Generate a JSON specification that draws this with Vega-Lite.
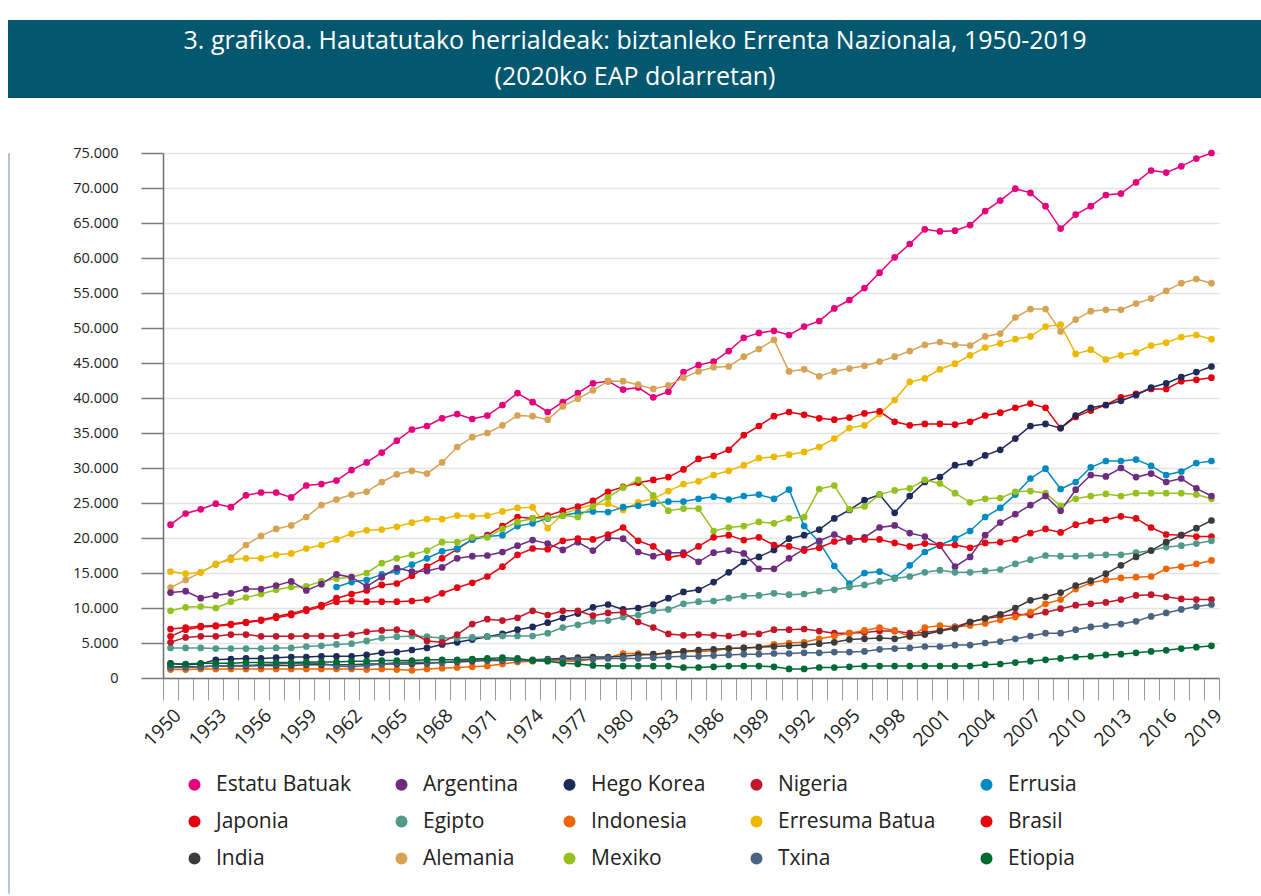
{
"$schema": "https://vega.github.io/schema/vega-lite/v6.json",
"background": "white",
"padding": {"left": 7, "top": 20, "right": 0, "bottom": 0},
"config": {"font": "Open Sans", "view": {"stroke": null}},
"spacing": 47,
"vconcat": [
{
"width": 1254, "height": 78,
"view": {"fill": "#03576F", "stroke": null},
"data": {"values": [{"line": "3. grafikoa. Hautatutako herrialdeak: biztanleko Errenta Nazionala, 1950-2019", "n": 1}, {"line": "(2020ko EAP dolarretan)", "n": 2}]},
"mark": {"type": "text", "color": "white", "fontSize": 25, "baseline": "middle", "align": "center", "font": "Open Sans"},
"encoding": {
"y": {"field": "n", "type": "ordinal", "axis": null, "scale": {"type": "point", "padding": 0.614}},
"text": {"field": "line"}
}
},
{
"spacing": 62,
"resolve": {"scale": {"color": "independent"}, "legend": {"color": "independent"}},
"hconcat": [
{"width": 1, "height": 740, "view": {"stroke": "#b4c6d2", "strokeWidth": 1}, "data": {"values": []}, "mark": "point"},
{
"width": 1056, "height": 525,
"data": {"values": [
{"country":"Estatu Batuak","year":1950,"value":21900},{"country":"Estatu Batuak","year":1951,"value":23500},{"country":"Estatu Batuak","year":1952,"value":24100},{"country":"Estatu Batuak","year":1953,"value":24900},{"country":"Estatu Batuak","year":1954,"value":24400},{"country":"Estatu Batuak","year":1955,"value":26100},{"country":"Estatu Batuak","year":1956,"value":26500},{"country":"Estatu Batuak","year":1957,"value":26500},{"country":"Estatu Batuak","year":1958,"value":25800},{"country":"Estatu Batuak","year":1959,"value":27500},
{"country":"Estatu Batuak","year":1960,"value":27700},{"country":"Estatu Batuak","year":1961,"value":28200},{"country":"Estatu Batuak","year":1962,"value":29700},{"country":"Estatu Batuak","year":1963,"value":30800},{"country":"Estatu Batuak","year":1964,"value":32200},{"country":"Estatu Batuak","year":1965,"value":33900},{"country":"Estatu Batuak","year":1966,"value":35500},{"country":"Estatu Batuak","year":1967,"value":36000},{"country":"Estatu Batuak","year":1968,"value":37100},{"country":"Estatu Batuak","year":1969,"value":37700},
{"country":"Estatu Batuak","year":1970,"value":37000},{"country":"Estatu Batuak","year":1971,"value":37500},{"country":"Estatu Batuak","year":1972,"value":39000},{"country":"Estatu Batuak","year":1973,"value":40700},{"country":"Estatu Batuak","year":1974,"value":39400},{"country":"Estatu Batuak","year":1975,"value":38000},{"country":"Estatu Batuak","year":1976,"value":39400},{"country":"Estatu Batuak","year":1977,"value":40700},{"country":"Estatu Batuak","year":1978,"value":42100},{"country":"Estatu Batuak","year":1979,"value":42400},
{"country":"Estatu Batuak","year":1980,"value":41200},{"country":"Estatu Batuak","year":1981,"value":41500},{"country":"Estatu Batuak","year":1982,"value":40100},{"country":"Estatu Batuak","year":1983,"value":40900},{"country":"Estatu Batuak","year":1984,"value":43700},{"country":"Estatu Batuak","year":1985,"value":44700},{"country":"Estatu Batuak","year":1986,"value":45200},{"country":"Estatu Batuak","year":1987,"value":46700},{"country":"Estatu Batuak","year":1988,"value":48600},{"country":"Estatu Batuak","year":1989,"value":49300},
{"country":"Estatu Batuak","year":1990,"value":49600},{"country":"Estatu Batuak","year":1991,"value":49000},{"country":"Estatu Batuak","year":1992,"value":50200},{"country":"Estatu Batuak","year":1993,"value":51000},{"country":"Estatu Batuak","year":1994,"value":52800},{"country":"Estatu Batuak","year":1995,"value":54000},{"country":"Estatu Batuak","year":1996,"value":55700},{"country":"Estatu Batuak","year":1997,"value":57900},{"country":"Estatu Batuak","year":1998,"value":60100},{"country":"Estatu Batuak","year":1999,"value":62000},
{"country":"Estatu Batuak","year":2000,"value":64100},{"country":"Estatu Batuak","year":2001,"value":63800},{"country":"Estatu Batuak","year":2002,"value":63900},{"country":"Estatu Batuak","year":2003,"value":64700},{"country":"Estatu Batuak","year":2004,"value":66700},{"country":"Estatu Batuak","year":2005,"value":68200},{"country":"Estatu Batuak","year":2006,"value":69900},{"country":"Estatu Batuak","year":2007,"value":69300},{"country":"Estatu Batuak","year":2008,"value":67400},{"country":"Estatu Batuak","year":2009,"value":64200},
{"country":"Estatu Batuak","year":2010,"value":66200},{"country":"Estatu Batuak","year":2011,"value":67400},{"country":"Estatu Batuak","year":2012,"value":69000},{"country":"Estatu Batuak","year":2013,"value":69200},{"country":"Estatu Batuak","year":2014,"value":70800},{"country":"Estatu Batuak","year":2015,"value":72500},{"country":"Estatu Batuak","year":2016,"value":72200},{"country":"Estatu Batuak","year":2017,"value":73100},{"country":"Estatu Batuak","year":2018,"value":74200},{"country":"Estatu Batuak","year":2019,"value":75000},
{"country":"Alemania","year":1950,"value":12900},{"country":"Alemania","year":1951,"value":14000},{"country":"Alemania","year":1952,"value":15100},{"country":"Alemania","year":1953,"value":16200},{"country":"Alemania","year":1954,"value":17200},{"country":"Alemania","year":1955,"value":19000},{"country":"Alemania","year":1956,"value":20300},{"country":"Alemania","year":1957,"value":21300},{"country":"Alemania","year":1958,"value":21800},{"country":"Alemania","year":1959,"value":23000},
{"country":"Alemania","year":1960,"value":24700},{"country":"Alemania","year":1961,"value":25500},{"country":"Alemania","year":1962,"value":26200},{"country":"Alemania","year":1963,"value":26600},{"country":"Alemania","year":1964,"value":28000},{"country":"Alemania","year":1965,"value":29100},{"country":"Alemania","year":1966,"value":29600},{"country":"Alemania","year":1967,"value":29200},{"country":"Alemania","year":1968,"value":30800},{"country":"Alemania","year":1969,"value":33000},
{"country":"Alemania","year":1970,"value":34400},{"country":"Alemania","year":1971,"value":35000},{"country":"Alemania","year":1972,"value":36100},{"country":"Alemania","year":1973,"value":37500},{"country":"Alemania","year":1974,"value":37400},{"country":"Alemania","year":1975,"value":36900},{"country":"Alemania","year":1976,"value":38800},{"country":"Alemania","year":1977,"value":39900},{"country":"Alemania","year":1978,"value":41100},{"country":"Alemania","year":1979,"value":42400},
{"country":"Alemania","year":1980,"value":42400},{"country":"Alemania","year":1981,"value":41900},{"country":"Alemania","year":1982,"value":41300},{"country":"Alemania","year":1983,"value":41800},{"country":"Alemania","year":1984,"value":42900},{"country":"Alemania","year":1985,"value":43800},{"country":"Alemania","year":1986,"value":44400},{"country":"Alemania","year":1987,"value":44500},{"country":"Alemania","year":1988,"value":45900},{"country":"Alemania","year":1989,"value":47000},
{"country":"Alemania","year":1990,"value":48300},{"country":"Alemania","year":1991,"value":43800},{"country":"Alemania","year":1992,"value":44100},{"country":"Alemania","year":1993,"value":43100},{"country":"Alemania","year":1994,"value":43800},{"country":"Alemania","year":1995,"value":44200},{"country":"Alemania","year":1996,"value":44600},{"country":"Alemania","year":1997,"value":45200},{"country":"Alemania","year":1998,"value":45900},{"country":"Alemania","year":1999,"value":46700},
{"country":"Alemania","year":2000,"value":47600},{"country":"Alemania","year":2001,"value":48000},{"country":"Alemania","year":2002,"value":47600},{"country":"Alemania","year":2003,"value":47500},{"country":"Alemania","year":2004,"value":48800},{"country":"Alemania","year":2005,"value":49200},{"country":"Alemania","year":2006,"value":51500},{"country":"Alemania","year":2007,"value":52700},{"country":"Alemania","year":2008,"value":52700},{"country":"Alemania","year":2009,"value":49500},
{"country":"Alemania","year":2010,"value":51200},{"country":"Alemania","year":2011,"value":52400},{"country":"Alemania","year":2012,"value":52600},{"country":"Alemania","year":2013,"value":52600},{"country":"Alemania","year":2014,"value":53500},{"country":"Alemania","year":2015,"value":54200},{"country":"Alemania","year":2016,"value":55300},{"country":"Alemania","year":2017,"value":56400},{"country":"Alemania","year":2018,"value":57000},{"country":"Alemania","year":2019,"value":56400},
{"country":"Erresuma Batua","year":1950,"value":15200},{"country":"Erresuma Batua","year":1951,"value":14900},{"country":"Erresuma Batua","year":1952,"value":15100},{"country":"Erresuma Batua","year":1953,"value":16300},{"country":"Erresuma Batua","year":1954,"value":16900},{"country":"Erresuma Batua","year":1955,"value":17100},{"country":"Erresuma Batua","year":1956,"value":17100},{"country":"Erresuma Batua","year":1957,"value":17600},{"country":"Erresuma Batua","year":1958,"value":17800},{"country":"Erresuma Batua","year":1959,"value":18500},
{"country":"Erresuma Batua","year":1960,"value":19000},{"country":"Erresuma Batua","year":1961,"value":19800},{"country":"Erresuma Batua","year":1962,"value":20600},{"country":"Erresuma Batua","year":1963,"value":21100},{"country":"Erresuma Batua","year":1964,"value":21200},{"country":"Erresuma Batua","year":1965,"value":21600},{"country":"Erresuma Batua","year":1966,"value":22200},{"country":"Erresuma Batua","year":1967,"value":22700},{"country":"Erresuma Batua","year":1968,"value":22700},{"country":"Erresuma Batua","year":1969,"value":23200},
{"country":"Erresuma Batua","year":1970,"value":23100},{"country":"Erresuma Batua","year":1971,"value":23200},{"country":"Erresuma Batua","year":1972,"value":23800},{"country":"Erresuma Batua","year":1973,"value":24300},{"country":"Erresuma Batua","year":1974,"value":24400},{"country":"Erresuma Batua","year":1975,"value":21400},{"country":"Erresuma Batua","year":1976,"value":23400},{"country":"Erresuma Batua","year":1977,"value":24200},{"country":"Erresuma Batua","year":1978,"value":24700},{"country":"Erresuma Batua","year":1979,"value":24900},
{"country":"Erresuma Batua","year":1980,"value":24000},{"country":"Erresuma Batua","year":1981,"value":25100},{"country":"Erresuma Batua","year":1982,"value":25600},{"country":"Erresuma Batua","year":1983,"value":26700},{"country":"Erresuma Batua","year":1984,"value":27700},{"country":"Erresuma Batua","year":1985,"value":28100},{"country":"Erresuma Batua","year":1986,"value":29000},{"country":"Erresuma Batua","year":1987,"value":29600},{"country":"Erresuma Batua","year":1988,"value":30400},{"country":"Erresuma Batua","year":1989,"value":31400},
{"country":"Erresuma Batua","year":1990,"value":31600},{"country":"Erresuma Batua","year":1991,"value":31900},{"country":"Erresuma Batua","year":1992,"value":32300},{"country":"Erresuma Batua","year":1993,"value":33000},{"country":"Erresuma Batua","year":1994,"value":34200},{"country":"Erresuma Batua","year":1995,"value":35700},{"country":"Erresuma Batua","year":1996,"value":36100},{"country":"Erresuma Batua","year":1997,"value":37700},{"country":"Erresuma Batua","year":1998,"value":39700},{"country":"Erresuma Batua","year":1999,"value":42300},
{"country":"Erresuma Batua","year":2000,"value":42800},{"country":"Erresuma Batua","year":2001,"value":44100},{"country":"Erresuma Batua","year":2002,"value":44900},{"country":"Erresuma Batua","year":2003,"value":46100},{"country":"Erresuma Batua","year":2004,"value":47200},{"country":"Erresuma Batua","year":2005,"value":47800},{"country":"Erresuma Batua","year":2006,"value":48400},{"country":"Erresuma Batua","year":2007,"value":48800},{"country":"Erresuma Batua","year":2008,"value":50200},{"country":"Erresuma Batua","year":2009,"value":50500},
{"country":"Erresuma Batua","year":2010,"value":46300},{"country":"Erresuma Batua","year":2011,"value":46900},{"country":"Erresuma Batua","year":2012,"value":45500},{"country":"Erresuma Batua","year":2013,"value":46100},{"country":"Erresuma Batua","year":2014,"value":46500},{"country":"Erresuma Batua","year":2015,"value":47500},{"country":"Erresuma Batua","year":2016,"value":47900},{"country":"Erresuma Batua","year":2017,"value":48700},{"country":"Erresuma Batua","year":2018,"value":49000},{"country":"Erresuma Batua","year":2019,"value":48400},
{"country":"Japonia","year":1950,"value":7000},{"country":"Japonia","year":1951,"value":7200},{"country":"Japonia","year":1952,"value":7400},{"country":"Japonia","year":1953,"value":7500},{"country":"Japonia","year":1954,"value":7700},{"country":"Japonia","year":1955,"value":8000},{"country":"Japonia","year":1956,"value":8300},{"country":"Japonia","year":1957,"value":8800},{"country":"Japonia","year":1958,"value":9200},{"country":"Japonia","year":1959,"value":9800},
{"country":"Japonia","year":1960,"value":10400},{"country":"Japonia","year":1961,"value":11400},{"country":"Japonia","year":1962,"value":12000},{"country":"Japonia","year":1963,"value":12500},{"country":"Japonia","year":1964,"value":13300},{"country":"Japonia","year":1965,"value":13500},{"country":"Japonia","year":1966,"value":14600},{"country":"Japonia","year":1967,"value":15900},{"country":"Japonia","year":1968,"value":17100},{"country":"Japonia","year":1969,"value":18400},
{"country":"Japonia","year":1970,"value":19800},{"country":"Japonia","year":1971,"value":20400},{"country":"Japonia","year":1972,"value":21700},{"country":"Japonia","year":1973,"value":23000},{"country":"Japonia","year":1974,"value":22800},{"country":"Japonia","year":1975,"value":23200},{"country":"Japonia","year":1976,"value":23900},{"country":"Japonia","year":1977,"value":24500},{"country":"Japonia","year":1978,"value":25300},{"country":"Japonia","year":1979,"value":26600},
{"country":"Japonia","year":1980,"value":27300},{"country":"Japonia","year":1981,"value":27900},{"country":"Japonia","year":1982,"value":28300},{"country":"Japonia","year":1983,"value":28700},{"country":"Japonia","year":1984,"value":29800},{"country":"Japonia","year":1985,"value":31300},{"country":"Japonia","year":1986,"value":31700},{"country":"Japonia","year":1987,"value":32600},{"country":"Japonia","year":1988,"value":34700},{"country":"Japonia","year":1989,"value":36000},
{"country":"Japonia","year":1990,"value":37400},{"country":"Japonia","year":1991,"value":38000},{"country":"Japonia","year":1992,"value":37600},{"country":"Japonia","year":1993,"value":37100},{"country":"Japonia","year":1994,"value":36900},{"country":"Japonia","year":1995,"value":37200},{"country":"Japonia","year":1996,"value":37800},{"country":"Japonia","year":1997,"value":38100},{"country":"Japonia","year":1998,"value":36600},{"country":"Japonia","year":1999,"value":36100},
{"country":"Japonia","year":2000,"value":36300},{"country":"Japonia","year":2001,"value":36300},{"country":"Japonia","year":2002,"value":36200},{"country":"Japonia","year":2003,"value":36600},{"country":"Japonia","year":2004,"value":37500},{"country":"Japonia","year":2005,"value":37900},{"country":"Japonia","year":2006,"value":38600},{"country":"Japonia","year":2007,"value":39200},{"country":"Japonia","year":2008,"value":38600},{"country":"Japonia","year":2009,"value":35700},
{"country":"Japonia","year":2010,"value":37300},{"country":"Japonia","year":2011,"value":38200},{"country":"Japonia","year":2012,"value":39000},{"country":"Japonia","year":2013,"value":40100},{"country":"Japonia","year":2014,"value":40600},{"country":"Japonia","year":2015,"value":41300},{"country":"Japonia","year":2016,"value":41300},{"country":"Japonia","year":2017,"value":42400},{"country":"Japonia","year":2018,"value":42600},{"country":"Japonia","year":2019,"value":42900},
{"country":"Hego Korea","year":1950,"value":2100},{"country":"Hego Korea","year":1951,"value":1900},{"country":"Hego Korea","year":1952,"value":2000},{"country":"Hego Korea","year":1953,"value":2600},{"country":"Hego Korea","year":1954,"value":2700},{"country":"Hego Korea","year":1955,"value":2800},{"country":"Hego Korea","year":1956,"value":2800},{"country":"Hego Korea","year":1957,"value":2900},{"country":"Hego Korea","year":1958,"value":3000},{"country":"Hego Korea","year":1959,"value":3000},
{"country":"Hego Korea","year":1960,"value":3100},{"country":"Hego Korea","year":1961,"value":3100},{"country":"Hego Korea","year":1962,"value":3100},{"country":"Hego Korea","year":1963,"value":3300},{"country":"Hego Korea","year":1964,"value":3600},{"country":"Hego Korea","year":1965,"value":3700},{"country":"Hego Korea","year":1966,"value":4000},{"country":"Hego Korea","year":1967,"value":4300},{"country":"Hego Korea","year":1968,"value":4800},{"country":"Hego Korea","year":1969,"value":5100},
{"country":"Hego Korea","year":1970,"value":5500},{"country":"Hego Korea","year":1971,"value":5900},{"country":"Hego Korea","year":1972,"value":6300},{"country":"Hego Korea","year":1973,"value":6900},{"country":"Hego Korea","year":1974,"value":7300},{"country":"Hego Korea","year":1975,"value":7900},{"country":"Hego Korea","year":1976,"value":8600},{"country":"Hego Korea","year":1977,"value":9200},{"country":"Hego Korea","year":1978,"value":10100},{"country":"Hego Korea","year":1979,"value":10500},
{"country":"Hego Korea","year":1980,"value":9800},{"country":"Hego Korea","year":1981,"value":10000},{"country":"Hego Korea","year":1982,"value":10500},{"country":"Hego Korea","year":1983,"value":11400},{"country":"Hego Korea","year":1984,"value":12300},{"country":"Hego Korea","year":1985,"value":12600},{"country":"Hego Korea","year":1986,"value":13700},{"country":"Hego Korea","year":1987,"value":15100},{"country":"Hego Korea","year":1988,"value":16600},{"country":"Hego Korea","year":1989,"value":17300},
{"country":"Hego Korea","year":1990,"value":18300},{"country":"Hego Korea","year":1991,"value":19900},{"country":"Hego Korea","year":1992,"value":20400},{"country":"Hego Korea","year":1993,"value":21200},{"country":"Hego Korea","year":1994,"value":22800},{"country":"Hego Korea","year":1995,"value":24000},{"country":"Hego Korea","year":1996,"value":25400},{"country":"Hego Korea","year":1997,"value":26200},{"country":"Hego Korea","year":1998,"value":23600},{"country":"Hego Korea","year":1999,"value":26000},
{"country":"Hego Korea","year":2000,"value":28000},{"country":"Hego Korea","year":2001,"value":28700},{"country":"Hego Korea","year":2002,"value":30400},{"country":"Hego Korea","year":2003,"value":30700},{"country":"Hego Korea","year":2004,"value":31800},{"country":"Hego Korea","year":2005,"value":32600},{"country":"Hego Korea","year":2006,"value":34200},{"country":"Hego Korea","year":2007,"value":36000},{"country":"Hego Korea","year":2008,"value":36300},{"country":"Hego Korea","year":2009,"value":35700},
{"country":"Hego Korea","year":2010,"value":37500},{"country":"Hego Korea","year":2011,"value":38600},{"country":"Hego Korea","year":2012,"value":39000},{"country":"Hego Korea","year":2013,"value":39600},{"country":"Hego Korea","year":2014,"value":40400},{"country":"Hego Korea","year":2015,"value":41500},{"country":"Hego Korea","year":2016,"value":42100},{"country":"Hego Korea","year":2017,"value":43000},{"country":"Hego Korea","year":2018,"value":43700},{"country":"Hego Korea","year":2019,"value":44500},
{"country":"Errusia","year":1961,"value":13000},{"country":"Errusia","year":1962,"value":13700},{"country":"Errusia","year":1963,"value":14000},{"country":"Errusia","year":1964,"value":14800},{"country":"Errusia","year":1965,"value":15200},{"country":"Errusia","year":1966,"value":16200},{"country":"Errusia","year":1967,"value":17100},{"country":"Errusia","year":1968,"value":18100},{"country":"Errusia","year":1969,"value":18500},
{"country":"Errusia","year":1970,"value":19800},{"country":"Errusia","year":1971,"value":20200},{"country":"Errusia","year":1972,"value":20400},{"country":"Errusia","year":1973,"value":21700},{"country":"Errusia","year":1974,"value":22100},{"country":"Errusia","year":1975,"value":22800},{"country":"Errusia","year":1976,"value":23200},{"country":"Errusia","year":1977,"value":23600},{"country":"Errusia","year":1978,"value":23800},{"country":"Errusia","year":1979,"value":23700},
{"country":"Errusia","year":1980,"value":24400},{"country":"Errusia","year":1981,"value":24600},{"country":"Errusia","year":1982,"value":24900},{"country":"Errusia","year":1983,"value":25200},{"country":"Errusia","year":1984,"value":25200},{"country":"Errusia","year":1985,"value":25600},{"country":"Errusia","year":1986,"value":25900},{"country":"Errusia","year":1987,"value":25500},{"country":"Errusia","year":1988,"value":26000},{"country":"Errusia","year":1989,"value":26200},
{"country":"Errusia","year":1990,"value":25600},{"country":"Errusia","year":1991,"value":26900},{"country":"Errusia","year":1992,"value":21700},{"country":"Errusia","year":1993,"value":19400},{"country":"Errusia","year":1994,"value":16000},{"country":"Errusia","year":1995,"value":13500},{"country":"Errusia","year":1996,"value":15000},{"country":"Errusia","year":1997,"value":15200},{"country":"Errusia","year":1998,"value":14300},{"country":"Errusia","year":1999,"value":16100},
{"country":"Errusia","year":2000,"value":18000},{"country":"Errusia","year":2001,"value":19000},{"country":"Errusia","year":2002,"value":19900},{"country":"Errusia","year":2003,"value":21000},{"country":"Errusia","year":2004,"value":23000},{"country":"Errusia","year":2005,"value":24300},{"country":"Errusia","year":2006,"value":26200},{"country":"Errusia","year":2007,"value":28500},{"country":"Errusia","year":2008,"value":29900},{"country":"Errusia","year":2009,"value":27000},
{"country":"Errusia","year":2010,"value":28000},{"country":"Errusia","year":2011,"value":30100},{"country":"Errusia","year":2012,"value":31000},{"country":"Errusia","year":2013,"value":31000},{"country":"Errusia","year":2014,"value":31200},{"country":"Errusia","year":2015,"value":30300},{"country":"Errusia","year":2016,"value":29000},{"country":"Errusia","year":2017,"value":29500},{"country":"Errusia","year":2018,"value":30700},{"country":"Errusia","year":2019,"value":31000},
{"country":"Mexiko","year":1950,"value":9600},{"country":"Mexiko","year":1951,"value":10100},{"country":"Mexiko","year":1952,"value":10200},{"country":"Mexiko","year":1953,"value":10000},{"country":"Mexiko","year":1954,"value":10900},{"country":"Mexiko","year":1955,"value":11500},{"country":"Mexiko","year":1956,"value":12000},{"country":"Mexiko","year":1957,"value":12600},{"country":"Mexiko","year":1958,"value":13000},{"country":"Mexiko","year":1959,"value":13100},
{"country":"Mexiko","year":1960,"value":13800},{"country":"Mexiko","year":1961,"value":14200},{"country":"Mexiko","year":1962,"value":14400},{"country":"Mexiko","year":1963,"value":15000},{"country":"Mexiko","year":1964,"value":16400},{"country":"Mexiko","year":1965,"value":17100},{"country":"Mexiko","year":1966,"value":17600},{"country":"Mexiko","year":1967,"value":18200},{"country":"Mexiko","year":1968,"value":19400},{"country":"Mexiko","year":1969,"value":19400},
{"country":"Mexiko","year":1970,"value":20100},{"country":"Mexiko","year":1971,"value":20100},{"country":"Mexiko","year":1972,"value":21300},{"country":"Mexiko","year":1973,"value":22300},{"country":"Mexiko","year":1974,"value":22800},{"country":"Mexiko","year":1975,"value":22900},{"country":"Mexiko","year":1976,"value":23200},{"country":"Mexiko","year":1977,"value":23000},{"country":"Mexiko","year":1978,"value":24500},{"country":"Mexiko","year":1979,"value":25800},
{"country":"Mexiko","year":1980,"value":27200},{"country":"Mexiko","year":1981,"value":28300},{"country":"Mexiko","year":1982,"value":26100},{"country":"Mexiko","year":1983,"value":23900},{"country":"Mexiko","year":1984,"value":24200},{"country":"Mexiko","year":1985,"value":24200},{"country":"Mexiko","year":1986,"value":21000},{"country":"Mexiko","year":1987,"value":21500},{"country":"Mexiko","year":1988,"value":21700},{"country":"Mexiko","year":1989,"value":22300},
{"country":"Mexiko","year":1990,"value":22100},{"country":"Mexiko","year":1991,"value":22800},{"country":"Mexiko","year":1992,"value":23000},{"country":"Mexiko","year":1993,"value":27000},{"country":"Mexiko","year":1994,"value":27500},{"country":"Mexiko","year":1995,"value":24100},{"country":"Mexiko","year":1996,"value":24500},{"country":"Mexiko","year":1997,"value":26200},{"country":"Mexiko","year":1998,"value":26800},{"country":"Mexiko","year":1999,"value":27100},
{"country":"Mexiko","year":2000,"value":28300},{"country":"Mexiko","year":2001,"value":27800},{"country":"Mexiko","year":2002,"value":26400},{"country":"Mexiko","year":2003,"value":25100},{"country":"Mexiko","year":2004,"value":25600},{"country":"Mexiko","year":2005,"value":25700},{"country":"Mexiko","year":2006,"value":26600},{"country":"Mexiko","year":2007,"value":26700},{"country":"Mexiko","year":2008,"value":26400},{"country":"Mexiko","year":2009,"value":24600},
{"country":"Mexiko","year":2010,"value":25600},{"country":"Mexiko","year":2011,"value":26000},{"country":"Mexiko","year":2012,"value":26300},{"country":"Mexiko","year":2013,"value":26000},{"country":"Mexiko","year":2014,"value":26400},{"country":"Mexiko","year":2015,"value":26400},{"country":"Mexiko","year":2016,"value":26400},{"country":"Mexiko","year":2017,"value":26400},{"country":"Mexiko","year":2018,"value":26200},{"country":"Mexiko","year":2019,"value":25600},
{"country":"Argentina","year":1950,"value":12200},{"country":"Argentina","year":1951,"value":12400},{"country":"Argentina","year":1952,"value":11400},{"country":"Argentina","year":1953,"value":11800},{"country":"Argentina","year":1954,"value":12100},{"country":"Argentina","year":1955,"value":12700},{"country":"Argentina","year":1956,"value":12700},{"country":"Argentina","year":1957,"value":13200},{"country":"Argentina","year":1958,"value":13800},{"country":"Argentina","year":1959,"value":12500},
{"country":"Argentina","year":1960,"value":13400},{"country":"Argentina","year":1961,"value":14800},{"country":"Argentina","year":1962,"value":14400},{"country":"Argentina","year":1963,"value":13100},{"country":"Argentina","year":1964,"value":14400},{"country":"Argentina","year":1965,"value":15700},{"country":"Argentina","year":1966,"value":15200},{"country":"Argentina","year":1967,"value":15300},{"country":"Argentina","year":1968,"value":15800},{"country":"Argentina","year":1969,"value":17100},
{"country":"Argentina","year":1970,"value":17400},{"country":"Argentina","year":1971,"value":17500},{"country":"Argentina","year":1972,"value":18000},{"country":"Argentina","year":1973,"value":18900},{"country":"Argentina","year":1974,"value":19700},{"country":"Argentina","year":1975,"value":19200},{"country":"Argentina","year":1976,"value":18300},{"country":"Argentina","year":1977,"value":19400},{"country":"Argentina","year":1978,"value":18200},{"country":"Argentina","year":1979,"value":20000},
{"country":"Argentina","year":1980,"value":19900},{"country":"Argentina","year":1981,"value":18000},{"country":"Argentina","year":1982,"value":17400},{"country":"Argentina","year":1983,"value":17900},{"country":"Argentina","year":1984,"value":17900},{"country":"Argentina","year":1985,"value":16600},{"country":"Argentina","year":1986,"value":17900},{"country":"Argentina","year":1987,"value":18200},{"country":"Argentina","year":1988,"value":17800},{"country":"Argentina","year":1989,"value":15600},
{"country":"Argentina","year":1990,"value":15600},{"country":"Argentina","year":1991,"value":17100},{"country":"Argentina","year":1992,"value":18400},{"country":"Argentina","year":1993,"value":19600},{"country":"Argentina","year":1994,"value":20500},{"country":"Argentina","year":1995,"value":19500},{"country":"Argentina","year":1996,"value":20100},{"country":"Argentina","year":1997,"value":21500},{"country":"Argentina","year":1998,"value":21800},{"country":"Argentina","year":1999,"value":20700},
{"country":"Argentina","year":2000,"value":20200},{"country":"Argentina","year":2001,"value":18900},{"country":"Argentina","year":2002,"value":15900},{"country":"Argentina","year":2003,"value":17300},{"country":"Argentina","year":2004,"value":20400},{"country":"Argentina","year":2005,"value":22200},{"country":"Argentina","year":2006,"value":23400},{"country":"Argentina","year":2007,"value":24700},{"country":"Argentina","year":2008,"value":26000},{"country":"Argentina","year":2009,"value":23900},
{"country":"Argentina","year":2010,"value":26900},{"country":"Argentina","year":2011,"value":29000},{"country":"Argentina","year":2012,"value":28800},{"country":"Argentina","year":2013,"value":30000},{"country":"Argentina","year":2014,"value":28700},{"country":"Argentina","year":2015,"value":29200},{"country":"Argentina","year":2016,"value":28000},{"country":"Argentina","year":2017,"value":28500},{"country":"Argentina","year":2018,"value":27100},{"country":"Argentina","year":2019,"value":26000},
{"country":"Brasil","year":1950,"value":5950},{"country":"Brasil","year":1951,"value":6900},{"country":"Brasil","year":1952,"value":7300},{"country":"Brasil","year":1953,"value":7400},{"country":"Brasil","year":1954,"value":7600},{"country":"Brasil","year":1955,"value":7900},{"country":"Brasil","year":1956,"value":8200},{"country":"Brasil","year":1957,"value":8600},{"country":"Brasil","year":1958,"value":9000},{"country":"Brasil","year":1959,"value":9600},
{"country":"Brasil","year":1960,"value":10200},{"country":"Brasil","year":1961,"value":10900},{"country":"Brasil","year":1962,"value":11000},{"country":"Brasil","year":1963,"value":10900},{"country":"Brasil","year":1964,"value":10900},{"country":"Brasil","year":1965,"value":10900},{"country":"Brasil","year":1966,"value":11000},{"country":"Brasil","year":1967,"value":11200},{"country":"Brasil","year":1968,"value":12100},{"country":"Brasil","year":1969,"value":12900},
{"country":"Brasil","year":1970,"value":13600},{"country":"Brasil","year":1971,"value":14500},{"country":"Brasil","year":1972,"value":15900},{"country":"Brasil","year":1973,"value":17600},{"country":"Brasil","year":1974,"value":18500},{"country":"Brasil","year":1975,"value":18400},{"country":"Brasil","year":1976,"value":19600},{"country":"Brasil","year":1977,"value":19900},{"country":"Brasil","year":1978,"value":19800},{"country":"Brasil","year":1979,"value":20500},
{"country":"Brasil","year":1980,"value":21500},{"country":"Brasil","year":1981,"value":19600},{"country":"Brasil","year":1982,"value":18800},{"country":"Brasil","year":1983,"value":17200},{"country":"Brasil","year":1984,"value":17600},{"country":"Brasil","year":1985,"value":18800},{"country":"Brasil","year":1986,"value":20100},{"country":"Brasil","year":1987,"value":20400},{"country":"Brasil","year":1988,"value":19700},{"country":"Brasil","year":1989,"value":20100},
{"country":"Brasil","year":1990,"value":19000},{"country":"Brasil","year":1991,"value":18800},{"country":"Brasil","year":1992,"value":18200},{"country":"Brasil","year":1993,"value":18600},{"country":"Brasil","year":1994,"value":19500},{"country":"Brasil","year":1995,"value":20000},{"country":"Brasil","year":1996,"value":19800},{"country":"Brasil","year":1997,"value":19800},{"country":"Brasil","year":1998,"value":19300},{"country":"Brasil","year":1999,"value":18800},
{"country":"Brasil","year":2000,"value":19200},{"country":"Brasil","year":2001,"value":19000},{"country":"Brasil","year":2002,"value":19000},{"country":"Brasil","year":2003,"value":18600},{"country":"Brasil","year":2004,"value":19300},{"country":"Brasil","year":2005,"value":19400},{"country":"Brasil","year":2006,"value":19800},{"country":"Brasil","year":2007,"value":20700},{"country":"Brasil","year":2008,"value":21300},{"country":"Brasil","year":2009,"value":20800},
{"country":"Brasil","year":2010,"value":21900},{"country":"Brasil","year":2011,"value":22400},{"country":"Brasil","year":2012,"value":22600},{"country":"Brasil","year":2013,"value":23100},{"country":"Brasil","year":2014,"value":22800},{"country":"Brasil","year":2015,"value":21500},{"country":"Brasil","year":2016,"value":20500},{"country":"Brasil","year":2017,"value":20400},{"country":"Brasil","year":2018,"value":20200},{"country":"Brasil","year":2019,"value":20200},
{"country":"Egipto","year":1950,"value":4300},{"country":"Egipto","year":1951,"value":4300},{"country":"Egipto","year":1952,"value":4300},{"country":"Egipto","year":1953,"value":4200},{"country":"Egipto","year":1954,"value":4200},{"country":"Egipto","year":1955,"value":4200},{"country":"Egipto","year":1956,"value":4200},{"country":"Egipto","year":1957,"value":4300},{"country":"Egipto","year":1958,"value":4300},{"country":"Egipto","year":1959,"value":4500},
{"country":"Egipto","year":1960,"value":4600},{"country":"Egipto","year":1961,"value":4800},{"country":"Egipto","year":1962,"value":4900},{"country":"Egipto","year":1963,"value":5300},{"country":"Egipto","year":1964,"value":5700},{"country":"Egipto","year":1965,"value":5900},{"country":"Egipto","year":1966,"value":6000},{"country":"Egipto","year":1967,"value":5900},{"country":"Egipto","year":1968,"value":5700},{"country":"Egipto","year":1969,"value":5700},
{"country":"Egipto","year":1970,"value":5800},{"country":"Egipto","year":1971,"value":5900},{"country":"Egipto","year":1972,"value":6000},{"country":"Egipto","year":1973,"value":6000},{"country":"Egipto","year":1974,"value":6000},{"country":"Egipto","year":1975,"value":6400},{"country":"Egipto","year":1976,"value":7200},{"country":"Egipto","year":1977,"value":7600},{"country":"Egipto","year":1978,"value":8100},{"country":"Egipto","year":1979,"value":8200},
{"country":"Egipto","year":1980,"value":8700},{"country":"Egipto","year":1981,"value":9000},{"country":"Egipto","year":1982,"value":9600},{"country":"Egipto","year":1983,"value":9800},{"country":"Egipto","year":1984,"value":10600},{"country":"Egipto","year":1985,"value":10900},{"country":"Egipto","year":1986,"value":11000},{"country":"Egipto","year":1987,"value":11400},{"country":"Egipto","year":1988,"value":11700},{"country":"Egipto","year":1989,"value":11800},
{"country":"Egipto","year":1990,"value":12100},{"country":"Egipto","year":1991,"value":11900},{"country":"Egipto","year":1992,"value":12000},{"country":"Egipto","year":1993,"value":12400},{"country":"Egipto","year":1994,"value":12600},{"country":"Egipto","year":1995,"value":13000},{"country":"Egipto","year":1996,"value":13300},{"country":"Egipto","year":1997,"value":13800},{"country":"Egipto","year":1998,"value":14200},{"country":"Egipto","year":1999,"value":14500},
{"country":"Egipto","year":2000,"value":15100},{"country":"Egipto","year":2001,"value":15400},{"country":"Egipto","year":2002,"value":15100},{"country":"Egipto","year":2003,"value":15100},{"country":"Egipto","year":2004,"value":15300},{"country":"Egipto","year":2005,"value":15500},{"country":"Egipto","year":2006,"value":16300},{"country":"Egipto","year":2007,"value":16900},{"country":"Egipto","year":2008,"value":17500},{"country":"Egipto","year":2009,"value":17400},
{"country":"Egipto","year":2010,"value":17400},{"country":"Egipto","year":2011,"value":17500},{"country":"Egipto","year":2012,"value":17600},{"country":"Egipto","year":2013,"value":17600},{"country":"Egipto","year":2014,"value":17900},{"country":"Egipto","year":2015,"value":18200},{"country":"Egipto","year":2016,"value":18700},{"country":"Egipto","year":2017,"value":18900},{"country":"Egipto","year":2018,"value":19200},{"country":"Egipto","year":2019,"value":19600},
{"country":"Nigeria","year":1950,"value":5100},{"country":"Nigeria","year":1951,"value":5800},{"country":"Nigeria","year":1952,"value":5950},{"country":"Nigeria","year":1953,"value":5950},{"country":"Nigeria","year":1954,"value":6200},{"country":"Nigeria","year":1955,"value":6200},{"country":"Nigeria","year":1956,"value":5950},{"country":"Nigeria","year":1957,"value":5950},{"country":"Nigeria","year":1958,"value":5950},{"country":"Nigeria","year":1959,"value":6000},
{"country":"Nigeria","year":1960,"value":6000},{"country":"Nigeria","year":1961,"value":6000},{"country":"Nigeria","year":1962,"value":6200},{"country":"Nigeria","year":1963,"value":6600},{"country":"Nigeria","year":1964,"value":6800},{"country":"Nigeria","year":1965,"value":6900},{"country":"Nigeria","year":1966,"value":6500},{"country":"Nigeria","year":1967,"value":5300},{"country":"Nigeria","year":1968,"value":5100},{"country":"Nigeria","year":1969,"value":6200},
{"country":"Nigeria","year":1970,"value":7700},{"country":"Nigeria","year":1971,"value":8400},{"country":"Nigeria","year":1972,"value":8200},{"country":"Nigeria","year":1973,"value":8600},{"country":"Nigeria","year":1974,"value":9600},{"country":"Nigeria","year":1975,"value":9000},{"country":"Nigeria","year":1976,"value":9600},{"country":"Nigeria","year":1977,"value":9600},{"country":"Nigeria","year":1978,"value":8900},{"country":"Nigeria","year":1979,"value":9300},
{"country":"Nigeria","year":1980,"value":9400},{"country":"Nigeria","year":1981,"value":8000},{"country":"Nigeria","year":1982,"value":7200},{"country":"Nigeria","year":1983,"value":6300},{"country":"Nigeria","year":1984,"value":6100},{"country":"Nigeria","year":1985,"value":6200},{"country":"Nigeria","year":1986,"value":6100},{"country":"Nigeria","year":1987,"value":6000},{"country":"Nigeria","year":1988,"value":6300},{"country":"Nigeria","year":1989,"value":6300},
{"country":"Nigeria","year":1990,"value":6900},{"country":"Nigeria","year":1991,"value":6900},{"country":"Nigeria","year":1992,"value":7000},{"country":"Nigeria","year":1993,"value":6700},{"country":"Nigeria","year":1994,"value":6400},{"country":"Nigeria","year":1995,"value":6400},{"country":"Nigeria","year":1996,"value":6500},{"country":"Nigeria","year":1997,"value":6700},{"country":"Nigeria","year":1998,"value":6700},{"country":"Nigeria","year":1999,"value":6400},
{"country":"Nigeria","year":2000,"value":6500},{"country":"Nigeria","year":2001,"value":6800},{"country":"Nigeria","year":2002,"value":7300},{"country":"Nigeria","year":2003,"value":8000},{"country":"Nigeria","year":2004,"value":8500},{"country":"Nigeria","year":2005,"value":8800},{"country":"Nigeria","year":2006,"value":9100},{"country":"Nigeria","year":2007,"value":9000},{"country":"Nigeria","year":2008,"value":9400},{"country":"Nigeria","year":2009,"value":9900},
{"country":"Nigeria","year":2010,"value":10400},{"country":"Nigeria","year":2011,"value":10600},{"country":"Nigeria","year":2012,"value":10800},{"country":"Nigeria","year":2013,"value":11200},{"country":"Nigeria","year":2014,"value":11800},{"country":"Nigeria","year":2015,"value":11900},{"country":"Nigeria","year":2016,"value":11600},{"country":"Nigeria","year":2017,"value":11300},{"country":"Nigeria","year":2018,"value":11200},{"country":"Nigeria","year":2019,"value":11200},
{"country":"Indonesia","year":1950,"value":1200},{"country":"Indonesia","year":1951,"value":1200},{"country":"Indonesia","year":1952,"value":1300},{"country":"Indonesia","year":1953,"value":1300},{"country":"Indonesia","year":1954,"value":1300},{"country":"Indonesia","year":1955,"value":1300},{"country":"Indonesia","year":1956,"value":1300},{"country":"Indonesia","year":1957,"value":1300},{"country":"Indonesia","year":1958,"value":1300},{"country":"Indonesia","year":1959,"value":1300},
{"country":"Indonesia","year":1960,"value":1300},{"country":"Indonesia","year":1961,"value":1300},{"country":"Indonesia","year":1962,"value":1300},{"country":"Indonesia","year":1963,"value":1200},{"country":"Indonesia","year":1964,"value":1300},{"country":"Indonesia","year":1965,"value":1200},{"country":"Indonesia","year":1966,"value":1100},{"country":"Indonesia","year":1967,"value":1300},{"country":"Indonesia","year":1968,"value":1400},{"country":"Indonesia","year":1969,"value":1500},
{"country":"Indonesia","year":1970,"value":1600},{"country":"Indonesia","year":1971,"value":1700},{"country":"Indonesia","year":1972,"value":2000},{"country":"Indonesia","year":1973,"value":2300},{"country":"Indonesia","year":1974,"value":2400},{"country":"Indonesia","year":1975,"value":2500},{"country":"Indonesia","year":1976,"value":2400},{"country":"Indonesia","year":1977,"value":2400},{"country":"Indonesia","year":1978,"value":2700},{"country":"Indonesia","year":1979,"value":2900},
{"country":"Indonesia","year":1980,"value":3500},{"country":"Indonesia","year":1981,"value":3500},{"country":"Indonesia","year":1982,"value":3300},{"country":"Indonesia","year":1983,"value":3600},{"country":"Indonesia","year":1984,"value":3800},{"country":"Indonesia","year":1985,"value":3800},{"country":"Indonesia","year":1986,"value":3900},{"country":"Indonesia","year":1987,"value":4200},{"country":"Indonesia","year":1988,"value":4300},{"country":"Indonesia","year":1989,"value":4400},
{"country":"Indonesia","year":1990,"value":4800},{"country":"Indonesia","year":1991,"value":5000},{"country":"Indonesia","year":1992,"value":5100},{"country":"Indonesia","year":1993,"value":5600},{"country":"Indonesia","year":1994,"value":6000},{"country":"Indonesia","year":1995,"value":6400},{"country":"Indonesia","year":1996,"value":6800},{"country":"Indonesia","year":1997,"value":7200},{"country":"Indonesia","year":1998,"value":6800},{"country":"Indonesia","year":1999,"value":5900},
{"country":"Indonesia","year":2000,"value":7200},{"country":"Indonesia","year":2001,"value":7500},{"country":"Indonesia","year":2002,"value":7300},{"country":"Indonesia","year":2003,"value":7500},{"country":"Indonesia","year":2004,"value":7800},{"country":"Indonesia","year":2005,"value":8300},{"country":"Indonesia","year":2006,"value":8700},{"country":"Indonesia","year":2007,"value":9400},{"country":"Indonesia","year":2008,"value":10600},{"country":"Indonesia","year":2009,"value":11200},
{"country":"Indonesia","year":2010,"value":12700},{"country":"Indonesia","year":2011,"value":13600},{"country":"Indonesia","year":2012,"value":14000},{"country":"Indonesia","year":2013,"value":14300},{"country":"Indonesia","year":2014,"value":14400},{"country":"Indonesia","year":2015,"value":14500},{"country":"Indonesia","year":2016,"value":15600},{"country":"Indonesia","year":2017,"value":15900},{"country":"Indonesia","year":2018,"value":16300},{"country":"Indonesia","year":2019,"value":16800},
{"country":"India","year":1950,"value":1600},{"country":"India","year":1951,"value":1600},{"country":"India","year":1952,"value":1600},{"country":"India","year":1953,"value":1700},{"country":"India","year":1954,"value":1700},{"country":"India","year":1955,"value":1700},{"country":"India","year":1956,"value":1800},{"country":"India","year":1957,"value":1800},{"country":"India","year":1958,"value":1800},{"country":"India","year":1959,"value":1900},
{"country":"India","year":1960,"value":1900},{"country":"India","year":1961,"value":1900},{"country":"India","year":1962,"value":1900},{"country":"India","year":1963,"value":2000},{"country":"India","year":1964,"value":2000},{"country":"India","year":1965,"value":2000},{"country":"India","year":1966,"value":2000},{"country":"India","year":1967,"value":2100},{"country":"India","year":1968,"value":2200},{"country":"India","year":1969,"value":2300},
{"country":"India","year":1970,"value":2400},{"country":"India","year":1971,"value":2500},{"country":"India","year":1972,"value":2500},{"country":"India","year":1973,"value":2600},{"country":"India","year":1974,"value":2600},{"country":"India","year":1975,"value":2700},{"country":"India","year":1976,"value":2800},{"country":"India","year":1977,"value":2900},{"country":"India","year":1978,"value":3000},{"country":"India","year":1979,"value":3000},
{"country":"India","year":1980,"value":3100},{"country":"India","year":1981,"value":3300},{"country":"India","year":1982,"value":3400},{"country":"India","year":1983,"value":3600},{"country":"India","year":1984,"value":3800},{"country":"India","year":1985,"value":4000},{"country":"India","year":1986,"value":4100},{"country":"India","year":1987,"value":4200},{"country":"India","year":1988,"value":4300},{"country":"India","year":1989,"value":4400},
{"country":"India","year":1990,"value":4500},{"country":"India","year":1991,"value":4600},{"country":"India","year":1992,"value":4700},{"country":"India","year":1993,"value":4900},{"country":"India","year":1994,"value":5100},{"country":"India","year":1995,"value":5500},{"country":"India","year":1996,"value":5600},{"country":"India","year":1997,"value":5700},{"country":"India","year":1998,"value":5600},{"country":"India","year":1999,"value":6000},
{"country":"India","year":2000,"value":6200},{"country":"India","year":2001,"value":6700},{"country":"India","year":2002,"value":7100},{"country":"India","year":2003,"value":8000},{"country":"India","year":2004,"value":8500},{"country":"India","year":2005,"value":9100},{"country":"India","year":2006,"value":10000},{"country":"India","year":2007,"value":11100},{"country":"India","year":2008,"value":11600},{"country":"India","year":2009,"value":12200},
{"country":"India","year":2010,"value":13200},{"country":"India","year":2011,"value":13900},{"country":"India","year":2012,"value":14900},{"country":"India","year":2013,"value":16100},{"country":"India","year":2014,"value":17300},{"country":"India","year":2015,"value":18200},{"country":"India","year":2016,"value":19400},{"country":"India","year":2017,"value":20400},{"country":"India","year":2018,"value":21400},{"country":"India","year":2019,"value":22500},
{"country":"Txina","year":1950,"value":1500},{"country":"Txina","year":1951,"value":1500},{"country":"Txina","year":1952,"value":1600},{"country":"Txina","year":1953,"value":1700},{"country":"Txina","year":1954,"value":1800},{"country":"Txina","year":1955,"value":1800},{"country":"Txina","year":1956,"value":1900},{"country":"Txina","year":1957,"value":2000},{"country":"Txina","year":1958,"value":2100},{"country":"Txina","year":1959,"value":2100},
{"country":"Txina","year":1960,"value":2100},{"country":"Txina","year":1961,"value":1700},{"country":"Txina","year":1962,"value":1600},{"country":"Txina","year":1963,"value":1800},{"country":"Txina","year":1964,"value":2000},{"country":"Txina","year":1965,"value":2200},{"country":"Txina","year":1966,"value":2300},{"country":"Txina","year":1967,"value":2200},{"country":"Txina","year":1968,"value":2200},{"country":"Txina","year":1969,"value":2400},
{"country":"Txina","year":1970,"value":2600},{"country":"Txina","year":1971,"value":2600},{"country":"Txina","year":1972,"value":2600},{"country":"Txina","year":1973,"value":2500},{"country":"Txina","year":1974,"value":2500},{"country":"Txina","year":1975,"value":2600},{"country":"Txina","year":1976,"value":2600},{"country":"Txina","year":1977,"value":2600},{"country":"Txina","year":1978,"value":2700},{"country":"Txina","year":1979,"value":2800},
{"country":"Txina","year":1980,"value":2800},{"country":"Txina","year":1981,"value":2800},{"country":"Txina","year":1982,"value":2900},{"country":"Txina","year":1983,"value":3000},{"country":"Txina","year":1984,"value":3100},{"country":"Txina","year":1985,"value":3100},{"country":"Txina","year":1986,"value":3200},{"country":"Txina","year":1987,"value":3300},{"country":"Txina","year":1988,"value":3400},{"country":"Txina","year":1989,"value":3400},
{"country":"Txina","year":1990,"value":3500},{"country":"Txina","year":1991,"value":3500},{"country":"Txina","year":1992,"value":3600},{"country":"Txina","year":1993,"value":3600},{"country":"Txina","year":1994,"value":3700},{"country":"Txina","year":1995,"value":3700},{"country":"Txina","year":1996,"value":3800},{"country":"Txina","year":1997,"value":4100},{"country":"Txina","year":1998,"value":4200},{"country":"Txina","year":1999,"value":4300},
{"country":"Txina","year":2000,"value":4500},{"country":"Txina","year":2001,"value":4500},{"country":"Txina","year":2002,"value":4700},{"country":"Txina","year":2003,"value":4700},{"country":"Txina","year":2004,"value":5000},{"country":"Txina","year":2005,"value":5200},{"country":"Txina","year":2006,"value":5600},{"country":"Txina","year":2007,"value":6000},{"country":"Txina","year":2008,"value":6400},{"country":"Txina","year":2009,"value":6400},
{"country":"Txina","year":2010,"value":6900},{"country":"Txina","year":2011,"value":7300},{"country":"Txina","year":2012,"value":7500},{"country":"Txina","year":2013,"value":7700},{"country":"Txina","year":2014,"value":8100},{"country":"Txina","year":2015,"value":8800},{"country":"Txina","year":2016,"value":9300},{"country":"Txina","year":2017,"value":9800},{"country":"Txina","year":2018,"value":10200},{"country":"Txina","year":2019,"value":10500},
{"country":"Etiopia","year":1950,"value":2000},{"country":"Etiopia","year":1951,"value":2000},{"country":"Etiopia","year":1952,"value":2100},{"country":"Etiopia","year":1953,"value":2100},{"country":"Etiopia","year":1954,"value":2100},{"country":"Etiopia","year":1955,"value":2200},{"country":"Etiopia","year":1956,"value":2200},{"country":"Etiopia","year":1957,"value":2200},{"country":"Etiopia","year":1958,"value":2200},{"country":"Etiopia","year":1959,"value":2300},
{"country":"Etiopia","year":1960,"value":2300},{"country":"Etiopia","year":1961,"value":2300},{"country":"Etiopia","year":1962,"value":2400},{"country":"Etiopia","year":1963,"value":2400},{"country":"Etiopia","year":1964,"value":2500},{"country":"Etiopia","year":1965,"value":2500},{"country":"Etiopia","year":1966,"value":2500},{"country":"Etiopia","year":1967,"value":2600},{"country":"Etiopia","year":1968,"value":2600},{"country":"Etiopia","year":1969,"value":2600},
{"country":"Etiopia","year":1970,"value":2700},{"country":"Etiopia","year":1971,"value":2800},{"country":"Etiopia","year":1972,"value":2900},{"country":"Etiopia","year":1973,"value":2800},{"country":"Etiopia","year":1974,"value":2500},{"country":"Etiopia","year":1975,"value":2400},{"country":"Etiopia","year":1976,"value":2100},{"country":"Etiopia","year":1977,"value":2000},{"country":"Etiopia","year":1978,"value":1800},{"country":"Etiopia","year":1979,"value":1700},
{"country":"Etiopia","year":1980,"value":1700},{"country":"Etiopia","year":1981,"value":1700},{"country":"Etiopia","year":1982,"value":1700},{"country":"Etiopia","year":1983,"value":1700},{"country":"Etiopia","year":1984,"value":1500},{"country":"Etiopia","year":1985,"value":1500},{"country":"Etiopia","year":1986,"value":1600},{"country":"Etiopia","year":1987,"value":1700},{"country":"Etiopia","year":1988,"value":1700},{"country":"Etiopia","year":1989,"value":1700},
{"country":"Etiopia","year":1990,"value":1600},{"country":"Etiopia","year":1991,"value":1300},{"country":"Etiopia","year":1992,"value":1300},{"country":"Etiopia","year":1993,"value":1500},{"country":"Etiopia","year":1994,"value":1500},{"country":"Etiopia","year":1995,"value":1600},{"country":"Etiopia","year":1996,"value":1700},{"country":"Etiopia","year":1997,"value":1700},{"country":"Etiopia","year":1998,"value":1700},{"country":"Etiopia","year":1999,"value":1700},
{"country":"Etiopia","year":2000,"value":1700},{"country":"Etiopia","year":2001,"value":1700},{"country":"Etiopia","year":2002,"value":1700},{"country":"Etiopia","year":2003,"value":1700},{"country":"Etiopia","year":2004,"value":1900},{"country":"Etiopia","year":2005,"value":2000},{"country":"Etiopia","year":2006,"value":2200},{"country":"Etiopia","year":2007,"value":2400},{"country":"Etiopia","year":2008,"value":2600},{"country":"Etiopia","year":2009,"value":2800},
{"country":"Etiopia","year":2010,"value":3000},{"country":"Etiopia","year":2011,"value":3100},{"country":"Etiopia","year":2012,"value":3300},{"country":"Etiopia","year":2013,"value":3400},{"country":"Etiopia","year":2014,"value":3600},{"country":"Etiopia","year":2015,"value":3800},{"country":"Etiopia","year":2016,"value":3950},{"country":"Etiopia","year":2017,"value":4200},{"country":"Etiopia","year":2018,"value":4400},{"country":"Etiopia","year":2019,"value":4600}
]},
"encoding": {
"x": {"field": "year", "type": "ordinal", "title": null,
"scale": {"type": "band", "paddingInner": 0, "paddingOuter": 0},
"axis": {"tickBand": "extent", "grid": false, "labelAngle": -45, "labelAlign": "right", "labelBaseline": "middle", "labelOverlap": false, "labelFontSize": 19, "labelColor": "#222222", "labelPadding": 12, "labelOffset": 7, "tickSize": 22, "tickColor": "#9a9a9a", "tickWidth": 1, "domainColor": "#6e6e6e", "domainWidth": 1.5, "labelExpr": "(datum.value - 1950) % 3 == 0 ? datum.label : ''"}},
"y": {"field": "value", "type": "quantitative", "title": null,
"scale": {"domain": [0, 75000], "nice": false},
"axis": {"values": [0,5000,10000,15000,20000,25000,30000,35000,40000,45000,50000,55000,60000,65000,70000,75000], "labelExpr": "replace(format(datum.value, ','), ',', '.')", "labelFontSize": 14.5, "labelColor": "#222222", "labelPadding": 23, "tickSize": 22, "tickColor": "#7a7a7a", "tickWidth": 1.5, "domainColor": "#6e6e6e", "domainWidth": 1.5, "gridColor": "#e4e4e4", "gridWidth": 1.5}},
"color": {"field": "country", "type": "nominal",
"scale": {"domain": ["Estatu Batuak","Argentina","Hego Korea","Nigeria","Errusia","Japonia","Egipto","Indonesia","Erresuma Batua","Brasil","India","Alemania","Mexiko","Txina","Etiopia"], "range": ["#E5007D","#6E2C7F","#1E2A5A","#C0182A","#008BC0","#E3000F","#4F9A8A","#EC6608","#EDB800","#E30613","#3C3C3B","#D6A354","#95C11F","#4A6380","#006A35"]},
"legend": {"title": null, "orient": "bottom", "offset": 3, "padding": 21, "direction": "horizontal", "columns": 5, "symbolType": "circle", "symbolSize": 144, "symbolStrokeWidth": 0, "labelFontSize": 21, "labelColor": "#222222", "labelOffset": 11, "columnPadding": 40, "rowPadding": 15,
"encode": {"symbols": {"update": {"fill": {"scale": "color", "field": "value"}, "stroke": {"value": "transparent"}, "opacity": {"value": 1}}}}}},
"order": {"field": "year"}
},
"layer": [
{"mark": {"type": "line", "strokeWidth": 1.5}},
{"mark": {"type": "point", "filled": true, "size": 45, "opacity": 1}}
]
}
]
}
]
}
